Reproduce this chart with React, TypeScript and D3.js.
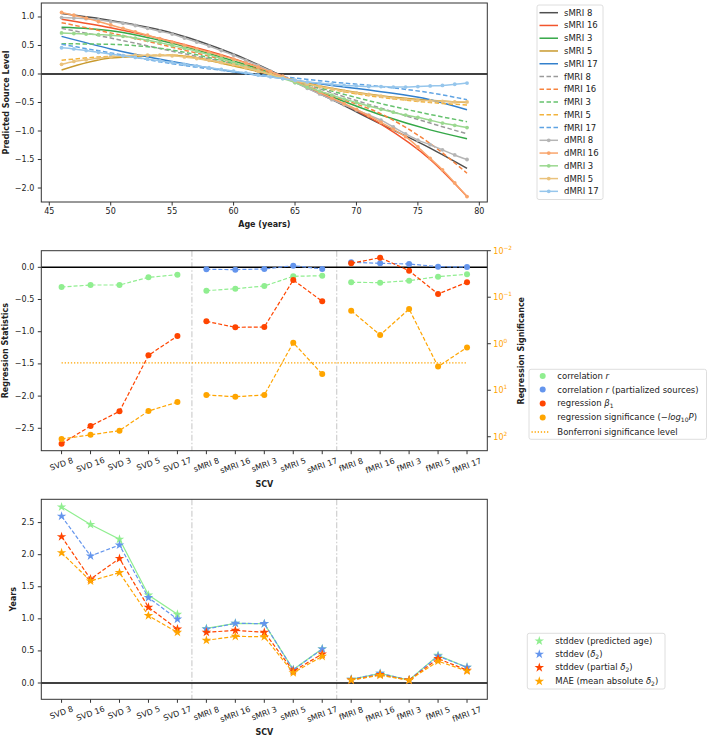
import React from 'react';
import * as d3 from 'd3';

// ---------- top panel data ----------
const ages = [46, 50, 55, 60, 64, 68, 72, 76, 79];
const dAges = [46, 47, 48, 49, 50, 51, 52, 53, 54, 55, 56, 57, 58, 59, 60, 61, 62, 63, 64, 65, 66, 67, 68, 69, 70, 71, 72, 73, 74, 75, 76, 77, 78, 79];

const sMRI8 = [1.06, 0.94, 0.72, 0.35, -0.04, -0.45, -0.88, -1.3, -1.655];
const sMRI16 = [0.96, 0.81, 0.57, 0.27, -0.04, -0.43, -0.88, -1.5, -2.15];
const sMRI3 = [0.82, 0.76, 0.54, 0.23, -0.05, -0.4, -0.72, -0.98, -1.135];
const sMRI5 = [0.07, 0.28, 0.33, 0.14, -0.06, -0.25, -0.38, -0.46, -0.5];
const sMRI17 = [0.66, 0.44, 0.22, 0.04, -0.08, -0.2, -0.31, -0.45, -0.626];
const fMRI8 = [0.8, 0.63, 0.4, 0.17, -0.05, -0.33, -0.6, -0.86, -1.05];
const fMRI16 = [0.9, 0.72, 0.47, 0.2, -0.05, -0.38, -0.7, -1.22, -1.74];
const fMRI3 = [0.53, 0.52, 0.42, 0.18, -0.06, -0.3, -0.52, -0.71, -0.836];
const fMRI5 = [0.24, 0.31, 0.33, 0.15, -0.05, -0.27, -0.41, -0.5, -0.544];
const fMRI17 = [0.52, 0.37, 0.18, 0.04, -0.05, -0.14, -0.22, -0.33, -0.45];
const dMRI8 = [0.99, 0.98, 0.97, 0.95, 0.92, 0.89, 0.85, 0.8, 0.75, 0.7, 0.63, 0.56, 0.49, 0.41, 0.33, 0.24, 0.15, 0.05, -0.05, -0.15, -0.25, -0.35, -0.45, -0.54, -0.63, -0.72, -0.81, -0.93, -1.05, -1.16, -1.24, -1.33, -1.42, -1.5];
const dMRI16 = [1.08, 1.03, 0.98, 0.92, 0.86, 0.8, 0.74, 0.68, 0.62, 0.56, 0.5, 0.44, 0.38, 0.32, 0.26, 0.19, 0.12, 0.04, -0.04, -0.13, -0.22, -0.32, -0.42, -0.52, -0.62, -0.73, -0.85, -0.97, -1.1, -1.28, -1.48, -1.68, -1.91, -2.15];
const dMRI3 = [0.72, 0.71, 0.7, 0.69, 0.68, 0.66, 0.63, 0.59, 0.55, 0.5, 0.45, 0.4, 0.34, 0.27, 0.2, 0.13, 0.06, -0.01, -0.08, -0.15, -0.23, -0.3, -0.37, -0.44, -0.5, -0.56, -0.62, -0.67, -0.72, -0.76, -0.81, -0.86, -0.9, -0.94];
const dMRI5 = [0.17, 0.22, 0.25, 0.28, 0.3, 0.32, 0.33, 0.33, 0.33, 0.32, 0.3, 0.27, 0.24, 0.2, 0.16, 0.11, 0.05, -0.01, -0.06, -0.12, -0.17, -0.22, -0.26, -0.3, -0.33, -0.36, -0.39, -0.42, -0.44, -0.46, -0.47, -0.48, -0.49, -0.49];
const dMRI17 = [0.46, 0.44, 0.41, 0.38, 0.35, 0.32, 0.29, 0.26, 0.23, 0.2, 0.17, 0.14, 0.11, 0.08, 0.05, 0.02, -0.02, -0.05, -0.08, -0.11, -0.14, -0.16, -0.18, -0.2, -0.21, -0.22, -0.22, -0.23, -0.23, -0.22, -0.21, -0.2, -0.18, -0.16];

const ageTicks = [45, 50, 55, 60, 65, 70, 75, 80];
const levelTicks = [-2, -1.5, -1, -0.5, 0, 0.5, 1];

// ---------- SCV panels data ----------
const scvLabels = ['SVD 8', 'SVD 16', 'SVD 3', 'SVD 5', 'SVD 17', 'sMRI 8', 'sMRI 16', 'sMRI 3', 'sMRI 5', 'sMRI 17', 'fMRI 8', 'fMRI 16', 'fMRI 3', 'fMRI 5', 'fMRI 17'];

const corrR = [-0.306, -0.275, -0.275, -0.156, -0.114, -0.363, -0.332, -0.29, -0.14, -0.13, -0.233, -0.238, -0.207, -0.145, -0.109];
const corrPartial = [null, null, null, null, null, -0.031, -0.036, -0.026, 0.026, -0.026, 0.078, 0.062, 0.052, 0.01, 0.005];
const beta1 = [-2.74, -2.465, -2.236, -1.367, -1.067, -0.839, -0.932, -0.927, -0.197, -0.528, 0.062, 0.149, -0.052, -0.414, -0.233];
const significance = [112, 91, 74, 28, 18, 12.6, 13.8, 12.6, 0.95, 4.5, 0.195, 0.65, 0.18, 3.1, 1.2];
const bonferroni = 2.57;

const statTicks = [-2.5, -2, -1.5, -1, -0.5, 0];
const sigTicks = [0.01, 0.1, 1, 10, 100];

const sdPredAge = [2.744, 2.47, 2.24, 1.37, 1.07, 0.85, 0.93, 0.925, 0.21, 0.535, 0.057, 0.15, 0.047, 0.43, 0.244];
const sdDelta = [2.6, 1.98, 2.15, 1.33, 0.995, 0.84, 0.93, 0.925, 0.205, 0.53, 0.057, 0.15, 0.047, 0.42, 0.244];
const sdPartial = [2.28, 1.62, 1.94, 1.18, 0.84, 0.79, 0.82, 0.79, 0.187, 0.45, 0.047, 0.13, 0.045, 0.38, 0.2];
const maeDelta = [2.03, 1.59, 1.72, 1.05, 0.79, 0.665, 0.727, 0.72, 0.16, 0.415, 0.045, 0.12, 0.042, 0.34, 0.187];

const yearTicks = [0, 0.5, 1, 1.5, 2, 2.5];

const FONT = 'DejaVu Sans';
const FS = 8;
const LFS = 8.5; // legend text
const TXT = '#222';
const fmt = (v: number) => v.toFixed(1).replace('-', '\u2212');

// ---------- top panel ----------
const topSeries = [
  { name: 'sMRI 8', x: ages, y: sMRI8, color: '#4f4f4f', dash: null, dot: false },
  { name: 'sMRI 16', x: ages, y: sMRI16, color: '#f2552c', dash: null, dot: false },
  { name: 'sMRI 3', x: ages, y: sMRI3, color: '#35a848', dash: null, dot: false },
  { name: 'sMRI 5', x: ages, y: sMRI5, color: '#c99a2e', dash: null, dot: false },
  { name: 'sMRI 17', x: ages, y: sMRI17, color: '#3380cc', dash: null, dot: false },
  { name: 'fMRI 8', x: ages, y: fMRI8, color: '#9a9a9a', dash: '4.5,2.5', dot: false },
  { name: 'fMRI 16', x: ages, y: fMRI16, color: '#f7843f', dash: '4.5,2.5', dot: false },
  { name: 'fMRI 3', x: ages, y: fMRI3, color: '#66c26e', dash: '4.5,2.5', dot: false },
  { name: 'fMRI 5', x: ages, y: fMRI5, color: '#f2b33d', dash: '4.5,2.5', dot: false },
  { name: 'fMRI 17', x: ages, y: fMRI17, color: '#5fa3e3', dash: '4.5,2.5', dot: false },
  { name: 'dMRI 8', x: dAges, y: dMRI8, color: '#b5b5b5', dash: null, dot: true },
  { name: 'dMRI 16', x: dAges, y: dMRI16, color: '#f9a56c', dash: null, dot: true },
  { name: 'dMRI 3', x: dAges, y: dMRI3, color: '#9ad88f', dash: null, dot: true },
  { name: 'dMRI 5', x: dAges, y: dMRI5, color: '#eac27c', dash: null, dot: true },
  { name: 'dMRI 17', x: dAges, y: dMRI17, color: '#96c6ec', dash: null, dot: true },
];

const L = 41.3;
const R = 487.3;

function Frame({ top, bottom }: { top: number; bottom: number }) {
  return <rect x={L} y={top} width={R - L} height={bottom - top} fill="none" stroke="#333" strokeWidth={1} />;
}

function YTicks({ ticks, scale }: { ticks: number[]; scale: (v: number) => number }) {
  return (
    <g>
      {ticks.map((t) => (
        <g key={t}>
          <line x1={L - 3.5} x2={L} y1={scale(t)} y2={scale(t)} stroke="#333" />
          <text x={L - 7} y={scale(t)} textAnchor="end" dominantBaseline="central" fontSize={FS} fill={TXT}>
            {fmt(t)}
          </text>
        </g>
      ))}
    </g>
  );
}

function YLabel({ x, y, text }: { x: number; y: number; text: string }) {
  return (
    <text x={x} y={y} transform={`rotate(-90, ${x}, ${y})`} textAnchor="middle" dominantBaseline="central" fontSize={FS} fontWeight="bold" fill={TXT}>
      {text}
    </text>
  );
}

function TopPanel() {
  const top = 3;
  const bottom = 202;
  const x = d3.scaleLinear().domain([44.35, 80.65]).range([L, R]);
  const y = d3.scaleLinear().domain([-2.245, 1.245]).range([bottom, top]);
  const line = (xs: number[], ys: number[]) =>
    d3.line<number>().x((_, i) => x(xs[i])).y((d) => y(d)).curve(d3.curveMonotoneX)(ys) || '';
  const legX = 537;
  const legY = 5;
  const rowH = 12.76;
  return (
    <g>
      <defs>
        <clipPath id="clipTop">
          <rect x={L} y={top} width={R - L} height={bottom - top} />
        </clipPath>
      </defs>
      <line x1={L} x2={R} y1={y(0)} y2={y(0)} stroke="#000" strokeWidth={1.5} />
      <g clipPath="url(#clipTop)">
        {topSeries.map((s) => (
          <g key={s.name}>
            <path d={line(s.x, s.y)} fill="none" stroke={s.color} strokeWidth={1.5} strokeDasharray={s.dash || undefined} />
            {s.dot && s.y.map((v, i) => <circle key={i} cx={x(s.x[i])} cy={y(v)} r={1.9} fill={s.color} />)}
          </g>
        ))}
      </g>
      <Frame top={top} bottom={bottom} />
      {ageTicks.map((t) => (
        <g key={t}>
          <line x1={x(t)} x2={x(t)} y1={bottom} y2={bottom + 3.5} stroke="#333" />
          <text x={x(t)} y={bottom + 12} textAnchor="middle" fontSize={FS} fill={TXT}>
            {t}
          </text>
        </g>
      ))}
      <YTicks ticks={levelTicks} scale={y} />
      <YLabel x={6} y={(top + bottom) / 2} text="Predicted Source Level" />
      <text x={(L + R) / 2} y={224} textAnchor="middle" dominantBaseline="central" fontSize={FS} fontWeight="bold" fill={TXT}>
        Age (years)
      </text>
      <rect x={legX} y={legY} width={66} height={194.5} rx={2} fill="#fff" fillOpacity={0.8} stroke="#d6d6d6" strokeWidth={0.8} />
      {topSeries.map((s, i) => {
        const ry = legY + 7.7 + i * rowH;
        return (
          <g key={s.name}>
            <line x1={legX + 2.5} x2={legX + 21} y1={ry} y2={ry} stroke={s.color} strokeWidth={1.5} strokeDasharray={s.dash || undefined} />
            {s.dot && <circle cx={legX + 11.75} cy={ry} r={1.9} fill={s.color} />}
            <text x={legX + 27} y={ry} dominantBaseline="central" fontSize={LFS} fill={TXT}>
              {s.name}
            </text>
          </g>
        );
      })}
    </g>
  );
}

// ---------- shared SCV helpers ----------
const xCat = d3.scaleLinear().domain([-0.7, 14.7]).range([L, R]);
const groups = [
  [0, 1, 2, 3, 4],
  [5, 6, 7, 8, 9],
  [10, 11, 12, 13, 14],
];

function CatAxis({ bottom, labelY }: { bottom: number; labelY: number }) {
  return (
    <g>
      {scvLabels.map((lab, i) => {
        const cx = xCat(i);
        const w = lab.length * 4.7;
        const h = 7.5;
        const bh = w * Math.sin(Math.PI / 9) + h * Math.cos(Math.PI / 9);
        const cy = bottom + 6 + bh / 2;
        return (
          <g key={lab}>
            <line x1={cx} x2={cx} y1={bottom} y2={bottom + 3.5} stroke="#333" />
            <text x={cx} y={cy} transform={`rotate(-20, ${cx}, ${cy})`} textAnchor="middle" dominantBaseline="central" fontSize={FS} fill={TXT}>
              {lab}
            </text>
          </g>
        );
      })}
      <text x={(L + R) / 2} y={labelY} textAnchor="middle" dominantBaseline="central" fontSize={FS} fontWeight="bold" fill={TXT}>
        SCV
      </text>
    </g>
  );
}

function Separators({ top, bottom }: { top: number; bottom: number }) {
  return (
    <g>
      {[4.5, 9.5].map((v) => (
        <line key={v} x1={xCat(v)} x2={xCat(v)} y1={top} y2={bottom} stroke="#cfcfcf" strokeWidth={1.2} strokeDasharray="6,2,1.5,2" />
      ))}
    </g>
  );
}

function groupPath(values: (number | null)[], y: (v: number) => number) {
  const gen = d3
    .line<number>()
    .defined((i) => values[i] !== null)
    .x((i) => xCat(i))
    .y((i) => y(values[i] as number));
  return groups.map((g) => gen(g) || '').join(' ');
}

// ---------- middle panel ----------
function MiddlePanel() {
  const top = 250.7;
  const bottom = 450.7;
  const y = d3.scaleLinear().domain([-2.848, 0.258]).range([bottom, top]);
  const yR = d3.scaleLog().domain([0.01, 199.5]).range([top, bottom]);
  const series = [
    { name: 'corr', values: corrR, color: '#90ee90', scale: y },
    { name: 'partial', values: corrPartial, color: '#6495ed', scale: y },
    { name: 'beta', values: beta1, color: '#ff4500', scale: y },
    { name: 'sig', values: significance, color: '#ffa500', scale: yR },
  ];
  const legX = 529;
  const legY = 369.3;
  const rows = [376, 389.5, 403.5, 417.5, 432];
  const colors = ['#90ee90', '#6495ed', '#ff4500', '#ffa500'];
  const sup = (e: string) => (
    <>
      10
      <tspan dy={-4} fontSize={5.8}>
        {e}
      </tspan>
    </>
  );
  const sigLabels = ['\u22122', '\u22121', '0', '1', '2'];
  return (
    <g>
      <Separators top={top} bottom={bottom} />
      <line x1={L} x2={R} y1={y(0)} y2={y(0)} stroke="#000" strokeWidth={1.5} />
      <line x1={xCat(0)} x2={xCat(14)} y1={yR(bonferroni)} y2={yR(bonferroni)} stroke="#ffa500" strokeWidth={1.3} strokeDasharray="1.3,1.8" />
      {series.map((s) => (
        <g key={s.name}>
          <path d={groupPath(s.values, s.scale)} fill="none" stroke={s.color} strokeWidth={1.2} strokeDasharray="4,2" />
          {s.values.map((v, i) => (v === null ? null : <circle key={i} cx={xCat(i)} cy={s.scale(v)} r={3} fill={s.color} />))}
        </g>
      ))}
      <Frame top={top} bottom={bottom} />
      <YTicks ticks={statTicks} scale={y} />
      {sigTicks.map((t, i) => (
        <g key={t}>
          <line x1={R} x2={R + 3.5} y1={yR(t)} y2={yR(t)} stroke="#333" />
          <text x={R + 6} y={yR(t) + 3} fontSize={FS} fill="#ffa500">
            {sup(sigLabels[i])}
          </text>
        </g>
      ))}
      <CatAxis bottom={bottom} labelY={484.3} />
      <YLabel x={6} y={(top + bottom) / 2} text="Regression Statistics" />
      <YLabel x={521.7} y={(top + bottom) / 2} text="Regression Significance" />
      <rect x={legX} y={legY} width={177.5} height={70} rx={2} fill="#fff" fillOpacity={0.8} stroke="#d6d6d6" strokeWidth={0.8} />
      {colors.map((c, i) => (
        <circle key={c} cx={542.7} cy={rows[i]} r={3} fill={c} />
      ))}
      <line x1={531.5} x2={549} y1={rows[4]} y2={rows[4]} stroke="#ffa500" strokeWidth={1.3} strokeDasharray="1.3,1.8" />
      <g fontSize={LFS} fill={TXT}>
        <text x={557.3} y={rows[0]} dominantBaseline="central">
          correlation <tspan fontStyle="italic">r</tspan>
        </text>
        <text x={557.3} y={rows[1]} dominantBaseline="central">
          correlation <tspan fontStyle="italic">r</tspan> (partialized sources)
        </text>
        <text x={557.3} y={rows[2] + 2.8}>
          regression <tspan fontStyle="italic">β</tspan>
          <tspan fontSize={6} dy={1.8}>1</tspan>
        </text>
        <text x={557.3} y={rows[3] + 2.8}>
          regression significance (−<tspan fontStyle="italic">log</tspan>
          <tspan fontSize={6} dy={1.8}>10</tspan>
          <tspan dy={-1.8} fontStyle="italic">P</tspan>)
        </text>
        <text x={557.3} y={rows[4]} dominantBaseline="central">
          Bonferroni significance level
        </text>
      </g>
    </g>
  );
}

// ---------- bottom panel ----------
function BottomPanel() {
  const top = 499.3;
  const bottom = 699.3;
  const y = d3.scaleLinear().domain([-0.254, 2.863]).range([bottom, top]);
  const star = d3.symbol().type(d3.symbolStar).size(28)() || '';
  const series = [
    { name: 'pred', values: sdPredAge, color: '#90ee90', dash: null },
    { name: 'delta', values: sdDelta, color: '#6495ed', dash: '4,2' },
    { name: 'partial', values: sdPartial, color: '#ff4500', dash: '4,2' },
    { name: 'mae', values: maeDelta, color: '#ffa500', dash: '4,2' },
  ];
  const legX = 527.3;
  const legY = 633.3;
  const rows = [641, 654.2, 667.6, 681.3];
  return (
    <g>
      <Separators top={top} bottom={bottom} />
      <line x1={L} x2={R} y1={y(0)} y2={y(0)} stroke="#000" strokeWidth={1.5} />
      {series.map((s) => (
        <g key={s.name}>
          <path d={groupPath(s.values, y)} fill="none" stroke={s.color} strokeWidth={1.2} strokeDasharray={s.dash || undefined} />
          {s.values.map((v, i) => (
            <path key={i} d={star} transform={`translate(${xCat(i)},${y(v)})`} fill={s.color} />
          ))}
        </g>
      ))}
      <Frame top={top} bottom={bottom} />
      <YTicks ticks={yearTicks} scale={y} />
      <CatAxis bottom={bottom} labelY={732} />
      <YLabel x={13.3} y={(top + bottom) / 2} text="Years" />
      <rect x={legX} y={legY} width={137.7} height={55.7} rx={2} fill="#fff" fillOpacity={0.8} stroke="#d6d6d6" strokeWidth={0.8} />
      {series.map((s, i) => (
        <path key={s.name} d={star} transform={`translate(539.3,${rows[i]})`} fill={s.color} />
      ))}
      <g fontSize={LFS} fill={TXT}>
        <text x={555.3} y={rows[0]} dominantBaseline="central">
          stddev (predicted age)
        </text>
        <text x={555.3} y={rows[1] + 2.8}>
          stddev (<tspan fontStyle="italic">δ</tspan>
          <tspan fontSize={6} dy={1.8}>2</tspan>
          <tspan dy={-1.8}>)</tspan>
        </text>
        <text x={555.3} y={rows[2] + 2.8}>
          stddev (partial <tspan fontStyle="italic">δ</tspan>
          <tspan fontSize={6} dy={1.8}>2</tspan>
          <tspan dy={-1.8}>)</tspan>
        </text>
        <text x={555.3} y={rows[3] + 2.8}>
          MAE (mean absolute <tspan fontStyle="italic">δ</tspan>
          <tspan fontSize={6} dy={1.8}>2</tspan>
          <tspan dy={-1.8}>)</tspan>
        </text>
      </g>
    </g>
  );
}

export default function App() {
  return (
    <svg width={709} height={738} style={{ position: 'absolute', left: 0, top: 0, background: '#fff' }} fontFamily={FONT}>
      <rect width={709} height={738} fill="#fff" />
      <TopPanel />
      <MiddlePanel />
      <BottomPanel />
    </svg>
  );
}
